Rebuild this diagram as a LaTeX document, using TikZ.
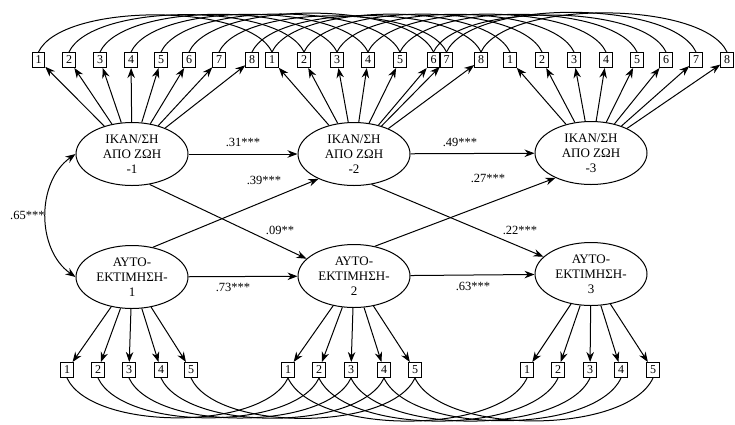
\documentclass[tikz,border=0pt]{standalone}
\usepackage{fontspec}
\setmainfont{Liberation Serif}
\usetikzlibrary{shapes.geometric, arrows.meta}
\tikzset{
  latent/.style={draw, ellipse, minimum width=112pt, minimum height=63pt, inner sep=0pt, align=center, font=\fontsize{13}{15}\selectfont}
}
\tikzset{
  item/.style={draw, fill=white, minimum width=12.5pt, minimum height=15pt, inner sep=0pt, font=\fontsize{12}{12}\selectfont}
}
\tikzset{
  coef/.style={inner sep=1pt, font=\fontsize{12.5}{12.5}\selectfont}
}

\begin{document}
\begin{tikzpicture}[x=1pt, y=1pt, >={Stealth[length=10pt,width=7.5pt]}, line width=1pt]
  \useasboundingbox (0,0) rectangle (735,-424);
  % latent variables
  \node[latent] (sat1) at (132,-154) {ΙΚΑΝ/ΣΗ\\ΑΠΟ ΖΩΗ\\-1};
  \node[latent] (sat2) at (354,-154) {ΙΚΑΝ/ΣΗ\\ΑΠΟ ΖΩΗ\\-2};
  \node[latent] (sat3) at (591,-153) {ΙΚΑΝ/ΣΗ\\ΑΠΟ ΖΩΗ\\-3};
  \node[latent] (est1) at (132,-277) {ΑΥΤΟ-\\ΕΚΤΙΜΗΣΗ-\\1};
  \node[latent] (est2) at (354,-276) {ΑΥΤΟ-\\ΕΚΤΙΜΗΣΗ-\\2};
  \node[latent] (est3) at (591,-274) {ΑΥΤΟ-\\ΕΚΤΙΜΗΣΗ-\\3};
  % indicators, top row
  \foreach \x [count=\i] in {38.5,69,100,131,161,189,219,252}
    \node[item] (s1-\i) at (\x,-60) {\i};
  \foreach \x [count=\i] in {272,304,337,368,400,433.5,446.5,481}
    \node[item] (s2-\i) at (\x,-60) {\i};
  \foreach \x [count=\i] in {510,542,574,606,637,666,696,727}
    \node[item] (s3-\i) at (\x,-60) {\i};
  % indicators, bottom row
  \foreach \x [count=\i] in {67,98,129,161,191}
    \node[item] (e1-\i) at (\x,-370) {\i};
  \foreach \x [count=\i] in {288,319,351,384,415}
    \node[item] (e2-\i) at (\x,-370) {\i};
  \foreach \x [count=\i] in {527,558,590,621,653}
    \node[item] (e3-\i) at (\x,-370) {\i};
  % loadings and correlated errors, top
  \foreach \i in {1,...,8} {
    \draw[->] (sat1) -- (s1-\i);
    \draw[->] (sat2) -- (s2-\i);
    \draw[->] (sat3) -- (s3-\i);
    \draw (s1-\i.north) to[out=65, in=115, looseness=0.6] (s2-\i.north);
    \draw (s2-\i.north) to[out=65, in=115, looseness=0.6] (s3-\i.north);
  }
  % loadings and correlated errors, bottom
  \foreach \i in {1,...,5} {
    \draw[->] (est1) -- (e1-\i);
    \draw[->] (est2) -- (e2-\i);
    \draw[->] (est3) -- (e3-\i);
    \draw (e1-\i.south) to[out=-65, in=-115, looseness=0.68] (e2-\i.south);
    \draw (e2-\i.south) to[out=-65, in=-115, looseness=0.68] (e3-\i.south);
  }
  % stability paths
  \draw[->] (sat1) -- (sat2);
  \draw[->] (sat2) -- (sat3);
  \draw[->] (est1) -- (est2);
  \draw[->] (est2) -- (est3);
  % cross-lagged paths
  \draw[->] (est1.55) -- (sat2.215);
  \draw[->] (sat1.300) -- (est2.160);
  \draw[->] (est2.55) -- (sat3.215);
  \draw[->] (sat2.300) -- (est3.160);
  % correlation at time 1
  \draw[<->] (sat1.west) to[out=215, in=145] node[coef, left] (c65) {.65***} (est1.west);
  % coefficients
  \node[coef] (c31) at (243,-142) {.31***};
  \node[coef] (c49) at (460,-142) {.49***};
  \node[coef] (c39) at (264,-180) {.39***};
  \node[coef] (c27) at (488,-178) {.27***};
  \node[coef] (c09) at (280,-230) {.09**};
  \node[coef] (c22) at (520,-230) {.22***};
  \node[coef] (c73) at (233,-287) {.73***};
  \node[coef] (c63) at (473,-286) {.63***};
\end{tikzpicture}
\end{document}
